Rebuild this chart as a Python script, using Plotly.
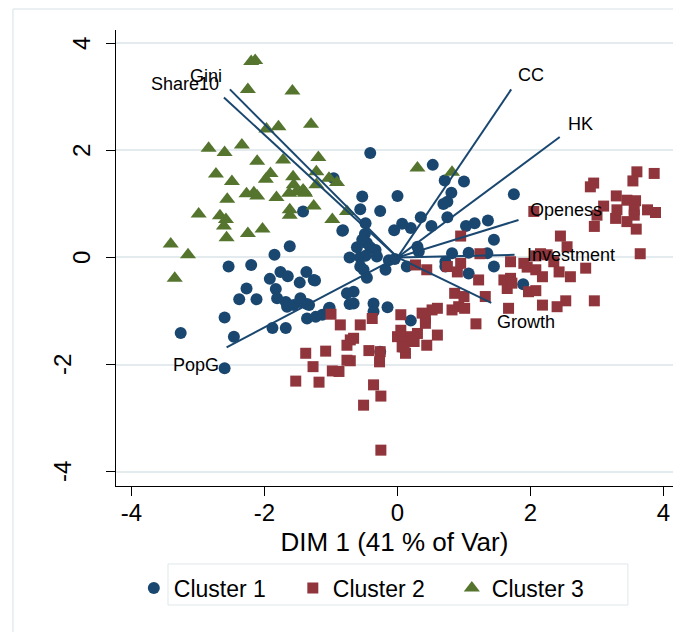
import plotly.graph_objects as go

# ---------------- data ----------------
c1_x = [-0.41, 0.53, 0.71, 1.00, 0.81, 0.75, 0.69, 0.00, -0.53, -0.56, -0.26, -1.42, -0.96, -0.82, -1.62,
        -0.48, -0.83, 0.35, 0.75, 0.07, -0.05, 0.20, 0.51, 1.03, 1.16, 1.36, 1.45, 1.75,
        -0.49, -0.46, -0.53, -0.61, -0.41, -0.33, -0.72, -0.56, -0.48, -0.31, -0.13, -0.04,
        0.30, 0.32, 0.82, 1.07, 1.35, 1.45,
        -0.56, -0.51, -0.18, 0.14, -1.37, 0.72, 0.72, 1.07,
        1.89, -0.66, -0.66, -0.36, -0.15, 0.20, -0.26,
        -1.26, -0.46, -1.46, -1.36, -1.02, -1.36, -1.23, -1.13, -0.36,
        -2.54, -2.20, -1.85, -2.27, -2.38, -2.12, -1.92, -1.76, -1.65, -1.24, -1.47, -1.83,
        -1.81, -1.68, -1.56, -1.46, -1.33, -1.66,
        -0.76, -0.72, -1.03,
        -2.60, -2.46, -1.88, -1.68, -3.26, -2.60]
c1_y = [1.95, 1.73, 1.44, 1.42, 1.21, 1.04, 1.00, 1.15, 1.14, 0.90, 0.87, 0.86, 1.48, 0.51, 0.21,
        0.64, 0.50, 0.75, 0.75, 0.63, 0.51, 0.55, 0.59, 0.59, 0.64, 0.69, 0.33, 1.18,
        0.44, 0.27, 0.33, 0.19, 0.19, 0.14, 0.00, 0.00, 0.03, 0.02, -0.05, -0.03,
        0.20, 0.11, 0.08, 0.09, 0.08, -0.17,
        -0.17, -0.23, -0.23, -0.17, -0.27, -0.08, -0.17, -0.30,
        -0.50, -0.64, -0.86, -0.86, -0.93, -1.18, -1.76,
        -0.42, -0.38, -0.76, -0.87, -0.94, -1.14, -1.11, -1.07, -1.01,
        -0.17, -0.14, 0.05, -0.58, -0.78, -0.78, -0.40, -0.27, -0.35, -0.43, -0.47, -0.59,
        -0.76, -0.83, -0.89, -0.83, -0.89, -0.92,
        -0.67, -0.87, -0.95,
        -1.12, -1.48, -1.32, -1.32, -1.41, -2.07]

c2_x = [3.60, 3.86, 3.54, 2.95, 2.90, 3.29, 3.45, 3.58, 3.10, 3.30, 3.56, 3.76, 3.88, 3.00, 3.28,
        3.45, 3.56, 2.96, 3.59, 2.05, 2.45, 2.55, 3.65,
        0.95, 1.24, 0.27, 0.44, 0.75, 0.95, 0.90,
        1.70, 1.90, 2.08, 2.25, 2.15, 2.35,
        1.22, 1.32, 1.60, 1.70, 1.65, 1.72, 1.95, 2.08, 2.18, 1.97, 2.08, 2.43, 2.60, 2.83,
        0.86, 0.92, 1.01, 0.82, 1.18, 1.67, 2.18, 2.40, 2.53, 2.96,
        0.52, 0.37, 0.42, 0.05, -0.38, -0.56,
        0.05, 0.00, 0.15, 0.07, 0.12, 0.20, 0.30, 0.44, 0.60, 0.25, 0.10,
        -0.71, -0.76, -0.43, -0.26, -0.27, -0.71, -0.36, -0.25, -0.51, -0.25,
        1.00, 0.60, 0.42,
        -1.00, -0.86, -0.66, -1.08, -1.38, -1.27, -0.98, -0.88, -1.18, -1.53, -0.76]
c2_y = [1.60, 1.57, 1.43, 1.39, 1.32, 1.15, 1.07, 1.06, 0.96, 0.89, 0.89, 0.89, 0.84, 0.79, 0.73,
        0.67, 0.79, 0.58, 0.53, 0.86, 0.40, 0.20, 0.07,
        0.40, 0.07, -0.14, -0.23, -0.17, -0.11, -0.27,
        -0.08, -0.11, 0.03, 0.05, 0.07, -0.08,
        -0.42, -0.73, -0.42, -0.39, -0.58, -0.48, -0.18, -0.23, -0.36, -0.64, -0.62, -0.27, -0.36, -0.20,
        -0.67, -0.92, -0.95, -0.98, -1.24, -0.95, -0.89, -0.92, -0.81, -0.81,
        -0.98, -1.04, -1.14, -1.07, -1.14, -1.26,
        -1.36, -1.48, -1.54, -1.67, -1.79, -1.48, -1.42, -1.64, -1.45, -1.57, -1.67,
        -1.54, -1.64, -1.74, -1.76, -1.95, -1.93, -2.38, -2.59, -2.76, -3.60,
        -0.73, -0.95, -1.23,
        -1.06, -1.26, -1.51, -1.75, -1.79, -2.04, -2.12, -2.13, -2.33, -2.31, -1.92]

c3_x = [-2.20, -2.14, -2.25, -1.58, -1.97, -1.79, -1.30,
        -2.84, -2.60, -2.34, -2.11, -1.72, -1.19,
        -2.73, -2.49, -1.91, -1.98, -1.57, -1.56, -1.42, -1.22, -1.03, -0.91, -1.22, -1.40,
        -2.56, -2.27, -2.16, -2.11, -1.82, -1.63, -1.52, -1.39,
        -1.62, -1.62, -1.26, -0.98, -0.76,
        -2.99, -2.67, -2.58, -2.61, -2.03, -2.25, -2.57,
        -3.41, -3.15, -3.35,
        0.30, 0.82]
c3_y = [3.66, 3.68, 3.14, 3.11, 2.40, 2.44, 2.49,
        2.04, 1.96, 2.10, 1.80, 1.82, 1.87,
        1.56, 1.42, 1.57, 1.46, 1.51, 1.36, 1.26, 1.60, 1.48, 1.40, 1.36, 1.23,
        1.09, 1.19, 1.21, 1.15, 1.12, 1.20, 1.23, 1.20,
        0.89, 0.79, 0.96, 0.71, 0.86,
        0.81, 0.78, 0.71, 0.59, 0.53, 0.45, 0.37,
        0.25, 0.05, -0.39,
        1.67, 1.59]

# variable loadings (arrow end points)
var_names = ["CC", "HK", "Openess", "Investment", "Growth", "PopG", "Gini", "Share10"]
var_x = [1.71, 2.44, 1.82, 1.76, 1.41, -2.57, -2.52, -2.61]
var_y = [3.14, 2.25, 0.70, 0.05, -0.85, -1.68, 3.14, 2.99]

x_ticks = [-4, -2, 0, 2, 4]
y_ticks = [-4, -2, 0, 2, 4]
x_title = "DIM 1 (41 % of Var)"
legend_names = ["Cluster 1", "Cluster 2", "Cluster 3"]

# ---------------- styles ----------------
NAVY = "#1a476f"
MAROON = "#90353b"
GREEN = "#55752f"
GRID = "#e3ebee"
FRAME = "#e4ebee"
FONT = "Liberation Sans, Arial, sans-serif"

# label placement relative to arrow tip: (xanchor, xshift, yshift)
label_pos = {
    "CC": ("left", 5, 14),
    "HK": ("left", 6, 13),
    "Openess": ("left", 9, 10),
    "Investment": ("left", 10, 0),
    "Growth": ("left", 4, -19),
    "PopG": ("right", -6, -18),
    "Gini": ("right", -6, 13),
    "Share10": ("right", -3, 13),
}

fig = go.Figure()
fig.add_trace(go.Scatter(x=c1_x, y=c1_y, mode="markers", name=legend_names[0],
                         marker=dict(symbol="circle", size=12, color=NAVY, line=dict(width=0)),
                         hoverinfo="skip"))
fig.add_trace(go.Scatter(x=c2_x, y=c2_y, mode="markers", name=legend_names[1],
                         marker=dict(symbol="square", size=11, color=MAROON, line=dict(width=0)),
                         hoverinfo="skip"))
fig.add_trace(go.Scatter(x=c3_x, y=c3_y, mode="markers", name=legend_names[2],
                         marker=dict(symbol="triangle-up", size=14, color=GREEN, line=dict(width=0)),
                         hoverinfo="skip"))

# arrows from origin
ax, ay = [], []
for vx, vy in zip(var_x, var_y):
    ax += [0, vx, None]
    ay += [0, vy, None]
fig.add_trace(go.Scatter(x=ax, y=ay, mode="lines", line=dict(color=NAVY, width=2),
                         showlegend=False, hoverinfo="skip"))

annotations = []
for name, vx, vy in zip(var_names, var_x, var_y):
    anc, xs, ys = label_pos[name]
    annotations.append(dict(x=vx, y=vy, xref="x", yref="y", text=name, showarrow=False,
                            xanchor=anc, yanchor="middle", xshift=xs, yshift=ys,
                            font=dict(family=FONT, size=18, color="black")))

# y tick labels (rotated, Stata-style placement)
for v in y_ticks:
    annotations.append(dict(x=0, y=v, xref="paper", yref="y", text=str(v), showarrow=False,
                            textangle=-90, xanchor="right", yanchor="middle",
                            xshift=(-38 if v < 0 else -19),
                            font=dict(family=FONT, size=24, color="black")))

shapes = [
    # legend box
    dict(type="rect", xref="paper", yref="paper", x0=0.0934, x1=0.919, y0=-0.261, y1=-0.171,
         line=dict(color="#dfe7ea", width=1), fillcolor="rgba(0,0,0,0)", layer="below"),
    # outer graph region border (top and left)
    dict(type="line", xref="paper", yref="paper", x0=-0.185, x1=1.0, y0=1.046, y1=1.046,
         line=dict(color=FRAME, width=1.5)),
    dict(type="line", xref="paper", yref="paper", x0=-0.185, x1=-0.185, y0=1.046, y1=-0.4,
         line=dict(color=FRAME, width=1.5)),
]

# the page body adds an 8px offset, so the figure is drawn 8px smaller with shifted margins
fig.update_layout(
    width=676, height=624,
    margin=dict(l=108, r=11, t=22, b=146),
    paper_bgcolor="white", plot_bgcolor="white",
    font=dict(family=FONT, color="black"),
    showlegend=True,
    legend=dict(orientation="h", x=0.032, xanchor="left", y=-0.224, yanchor="middle",
                font=dict(family=FONT, size=23, color="black"),
                bgcolor="rgba(0,0,0,0)", borderwidth=0,
                entrywidth=114, entrywidthmode="pixels", itemclick=False, itemdoubleclick=False),
    annotations=annotations,
    shapes=shapes,
    xaxis=dict(range=[-4.233, 4.143], tickvals=x_ticks, ticktext=[str(v) for v in x_ticks],
               showgrid=False, zeroline=False, showline=True, linecolor="black", linewidth=1,
               ticks="outside", ticklen=9, tickcolor="black", tickwidth=1,
               ticklabelstandoff=-4,
               tickfont=dict(family=FONT, size=24, color="black"),
               title=dict(text=x_title, font=dict(family=FONT, size=26, color="black"), standoff=8)),
    yaxis=dict(range=[-4.27, 4.25], tickvals=y_ticks, showticklabels=False,
               showgrid=True, gridcolor=GRID, gridwidth=2, zeroline=False,
               showline=True, linecolor="black", linewidth=1,
               ticks="outside", ticklen=9, tickcolor="black", tickwidth=1),
)

fig.write_html("out.html")
